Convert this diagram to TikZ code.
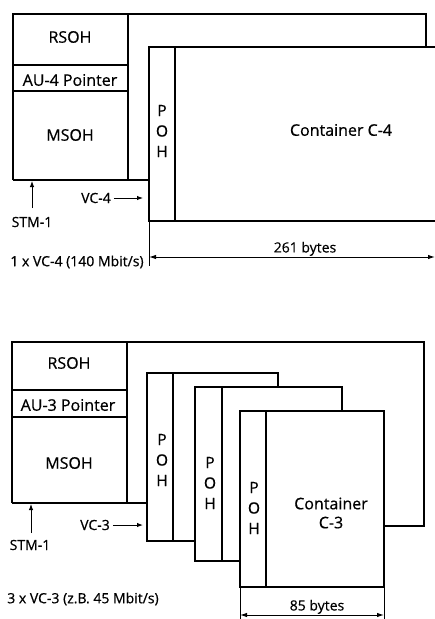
\documentclass[tikz,border=0pt]{standalone}
\usepackage{fontspec}
\setmainfont{Open Sans}
\newfontfamily\diafont{Open Sans}[FakeBold=0.6]
\usetikzlibrary{arrows.meta}
\begin{document}
\begin{tikzpicture}[x=1pt,y=-1pt,
  frame/.style={line width=2pt, line join=miter},
  vcbox/.style={line width=2pt, line join=miter, fill=white},
  lbl/.style={font=\diafont\fontsize{16}{17}\selectfont, inner sep=0pt},
  sml/.style={font=\diafont\fontsize{14}{16}\selectfont, inner sep=0pt},
  poh/.style={font=\diafont\fontsize{15.5}{20.5}\selectfont, inner sep=0pt, align=center},
  ptr/.style={line width=1pt, -{Latex[length=6pt,width=4.5pt]}},
  dim/.style={line width=1pt, {Latex[length=7pt,width=4.5pt]}-{Latex[length=7pt,width=4.5pt]}},
  ext/.style={line width=1pt}
]
\useasboundingbox (0,0) rectangle (435,619);
\clip (0,0) rectangle (435,619);

% ---------------- top diagram: 1 x VC-4 ----------------
\coordinate (tA) at (13,14);
\coordinate (tB) at (128,180);
\draw[frame] (13,180) -- (tA) -- (426,14) -- (426,47);
\draw[frame] (128,14) -- (tB);
\draw[frame] (13,65) -- (128,65);
\draw[frame] (13,91) -- (128,91);
\draw[frame] (13,180) -- (149,180);
% VC-4
\draw[vcbox] (445,47) -- (149,47) -- (149,221) -- (445,221);
\draw[frame] (175,47) -- (175,221);
\draw[ext] (149,221) -- (149,266);
\coordinate (d4l) at (149,257);
\coordinate (d4r) at (435,257);
\draw[dim] (d4l) -- (d4r);

\node[lbl] (rsoh1) at (70,37) {RSOH};
\node[lbl] (au4) at (70,80) {AU-4 Pointer};
\node[lbl] (msoh1) at (70,135) {MSOH};
\node[poh] (poh4) at (162,131) {P\\O\\H};
\node[lbl] (c4) at (341,130) {Container C-4};
\node[sml] (vc4) at (96,198) {VC-4};
\coordinate (vc4t) at (143,198);
\draw[ptr] (vc4.east) ++(3,0) -- (vc4t);
\node[sml] (stm1a) at (32,222) {STM-1};
\coordinate (stm1at) at (32,181);
\draw[ptr] (32,208) -- (stm1at);
\node[sml] (rate4) at (77,262) {1 x VC-4 (140 Mbit/s)};
\node[sml, anchor=south] (b261) at (305,256) {261 bytes};

% ---------------- bottom diagram: 3 x VC-3 ----------------
\draw[frame] (12,503) -- (12,342) -- (424,342) -- (424,526) -- (384,526);
\draw[frame] (127,342) -- (127,503);
\draw[frame] (12,390) -- (127,390);
\draw[frame] (12,417) -- (127,417);
\draw[frame] (12,503) -- (147,503);
% VC-3 #1
\draw[vcbox] (147,373) rectangle (278,541);
\draw[frame] (173,373) -- (173,541);
% VC-3 #2
\draw[vcbox] (195,387) rectangle (342,561);
\draw[frame] (222,387) -- (222,561);
% VC-3 #3
\draw[vcbox] (240,411) rectangle (384,587);
\draw[frame] (266,411) -- (266,587);
\draw[ext] (240,587) -- (240,619);
\draw[ext] (384,587) -- (384,619);
\coordinate (d3l) at (240,615);
\coordinate (d3r) at (384,615);
\draw[dim] (d3l) -- (d3r);

\node[lbl] (rsoh2) at (69,363) {RSOH};
\node[lbl] (au3) at (68,405) {AU-3 Pointer};
\node[lbl] (msoh2) at (69,463) {MSOH};
\node[poh] (poh31) at (162,460) {P\\O\\H};
\node[poh] (poh32) at (210,483) {P\\O\\H};
\node[poh] (poh33) at (254,508) {P\\O\\H};
\node[lbl, align=center, font=\diafont\fontsize{16}{19}\selectfont] (c3) at (331,513) {Container\\C-3};
\node[sml] (vc3) at (95,525) {VC-3};
\coordinate (vc3t) at (143,525);
\draw[ptr] (vc3.east) ++(3,0) -- (vc3t);
\node[sml] (stm1b) at (30,545) {STM-1};
\coordinate (stm1bt) at (31,504);
\draw[ptr] (31,533) -- (stm1bt);
\node[sml] (rate3) at (83,599) {3 x VC-3 (z.B. 45 Mbit/s)};
\node[sml, anchor=south] (b85) at (317,614) {85 bytes};
\end{tikzpicture}
\end{document}
